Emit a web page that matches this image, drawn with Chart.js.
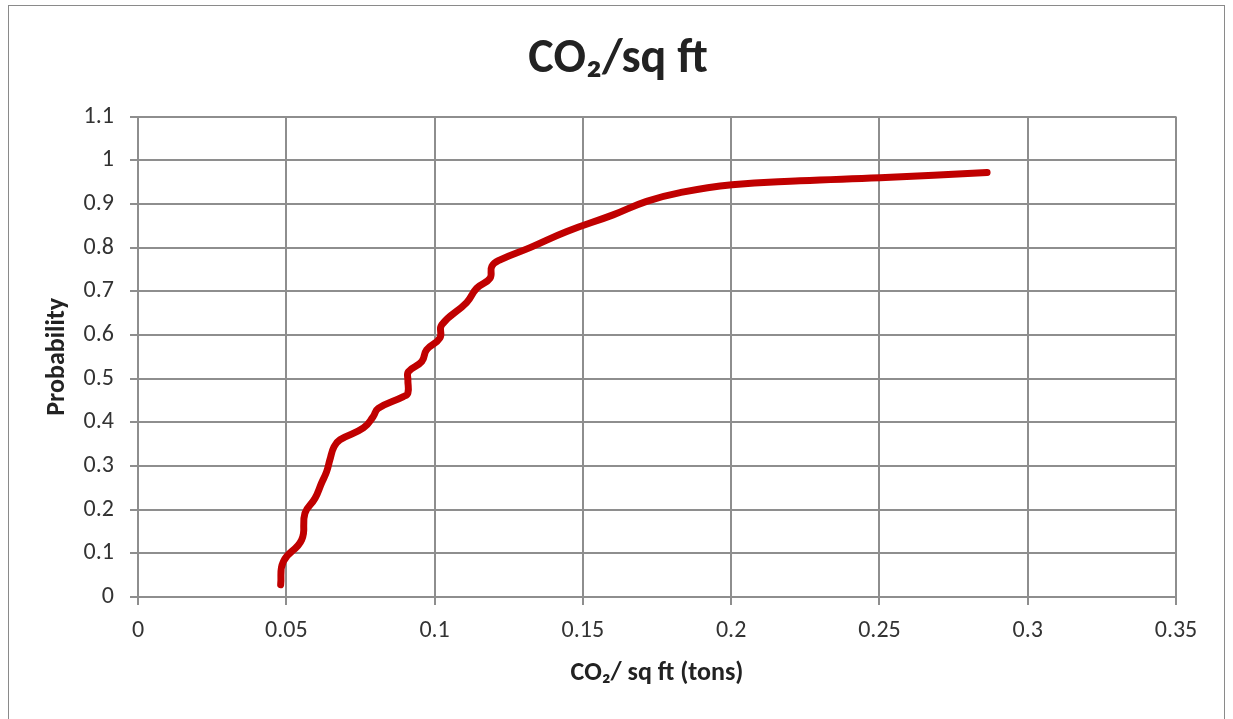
<!DOCTYPE html>
<html>
<head>
<meta charset="utf-8">
<script src="https://cdn.jsdelivr.net/npm/chart.js@4/dist/chart.umd.min.js"></script>
<style>
  html, body { margin: 0; padding: 0; background: #fff; }
  #wrap { position: relative; width: 1233px; height: 719px; }
  #frame { position: absolute; left: 8px; top: 5px; width: 1217px; height: 730px; border: 1px solid #8a8a8a; box-sizing: border-box; }
  canvas { position: absolute; left: 0; top: 0; }
</style>
</head>
<body>
<div id="wrap">
  <div id="frame"></div>
  <canvas id="co2Chart" width="1233" height="719"></canvas>
</div>
<script>
// CO2 per sq ft vs cumulative probability
const co2Values = [0.0481, 0.0490, 0.0552, 0.0563, 0.0597, 0.0619, 0.0636, 0.0647, 0.0661, 0.0681,
  0.0760, 0.0793, 0.0810, 0.0895, 0.0910, 0.0910, 0.0912, 0.0957, 0.0973, 0.1018,
  0.1024, 0.1108, 0.1142, 0.1187, 0.1193, 0.1221, 0.1322, 0.1446, 0.1602, 0.1715,
  0.1828, 0.2003, 0.2232, 0.2502, 0.2863];
const probabilities = [0.028, 0.081, 0.131, 0.192, 0.226, 0.261, 0.287, 0.314, 0.344, 0.360,
  0.387, 0.413, 0.432, 0.459, 0.467, 0.497, 0.516, 0.539, 0.566, 0.593,
  0.623, 0.674, 0.707, 0.730, 0.757, 0.772, 0.800, 0.837, 0.875, 0.906,
  0.926, 0.944, 0.953, 0.960, 0.972];

const chartTitle = 'CO\u2082/sq ft';
const xTitle = 'CO\u2082/ sq ft (tons)';
const yTitle = 'Probability';

const points = co2Values.map((x, i) => ({ x: x, y: probabilities[i] }));

const fontFamily = "Carlito, 'Open Sans', 'Noto Sans', sans-serif";
const gridColor = '#8e8e8e';

// title box is centred over the padded area, nudge it to the page centre
const titleShift = {
    id: 'titleShift',
    afterLayout(chart) {
        const t = chart.titleBlock;
        if (t) { t.left += 10; t.right += 10; }
    }
};

const ctx = document.getElementById('co2Chart').getContext('2d');
const co2Chart = new Chart(ctx, {
    type: 'line',
    data: {
        datasets: [{
            data: points,
            borderColor: '#c00000',
            borderWidth: 7,
            borderCapStyle: 'round',
            borderJoinStyle: 'round',
            pointRadius: 0,
            tension: 0.45,
            fill: false
        }]
    },
    plugins: [titleShift],
    options: {
        responsive: false,
        animation: false,
        layout: { padding: { left: 40, right: 57, top: 8, bottom: 0 } },
        plugins: {
            legend: { display: false },
            tooltip: { enabled: false },
            title: {
                display: true,
                text: chartTitle,
                color: '#222',
                font: { family: fontFamily, size: 48, weight: 'bold' },
                padding: { top: 23, bottom: 28 }
            }
        },
        scales: {
            x: {
                type: 'linear',
                min: 0,
                max: 0.35,
                afterFit: (scale) => { scale.height = 122; },
                ticks: {
                    stepSize: 0.05,
                    color: '#333',
                    font: { family: fontFamily, size: 24 },
                    padding: 12,
                    maxRotation: 0,
                    callback: (v) => String(+v.toFixed(2))
                },
                grid: { color: gridColor, lineWidth: 2, tickLength: 8 },
                border: { color: gridColor, width: 2 },
                title: {
                    display: true,
                    text: xTitle,
                    color: '#222',
                    font: { family: fontFamily, size: 26, weight: 'bold' },
                    padding: { top: 4, bottom: 30 }
                }
            },
            y: {
                min: 0,
                max: 1.1,
                afterFit: (scale) => { scale.width = 98; },
                ticks: {
                    stepSize: 0.1,
                    color: '#333',
                    font: { family: fontFamily, size: 24 },
                    padding: 16,
                    callback: (v) => String(+v.toFixed(1))
                },
                grid: { color: gridColor, lineWidth: 2, tickLength: 8 },
                border: { color: gridColor, width: 2 },
                title: {
                    display: true,
                    text: yTitle,
                    color: '#222',
                    font: { family: fontFamily, size: 26, weight: 'bold' },
                    padding: 2
                }
            }
        }
    }
});
</script>
</body>
</html>
